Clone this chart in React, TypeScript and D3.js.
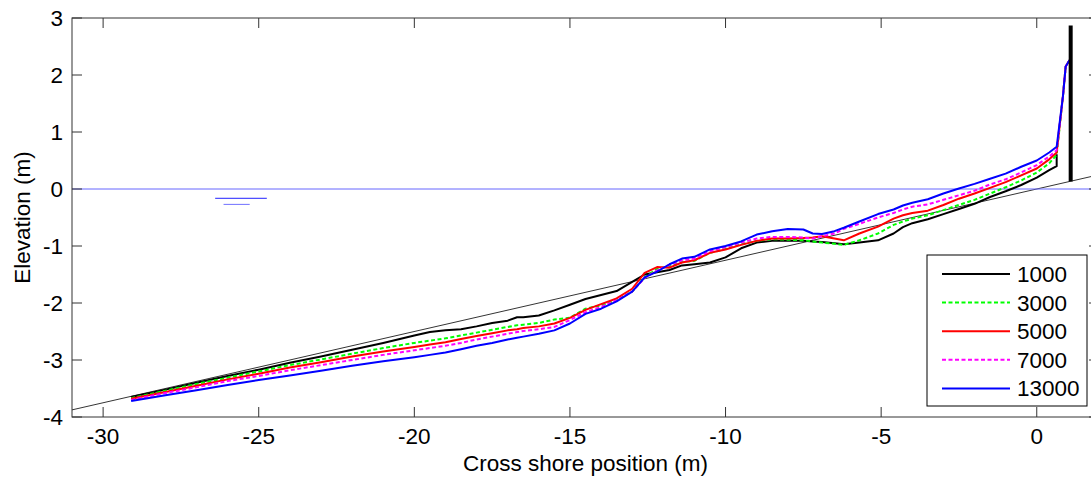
import React from 'react';
import * as d3 from 'd3';

const xs = [-29.1, -28, -27, -26, -25, -24, -23, -22, -21, -20, -19.5, -19, -18.5, -18, -17.5, -17, -16.7, -16.5, -16, -15.5, -15, -14.5, -14, -13.5, -13, -12.6, -12.2, -11.8, -11.4, -11, -10.5, -10, -9.5, -9, -8.5, -8, -7.5, -7.2, -6.9, -6.5, -6.2, -5.7, -5.1, -4.6, -4.3, -4, -3.5, -3, -2.5, -2, -1.5, -1, -0.5, 0, 0.4, 0.64];

const y1000 = [-3.65, -3.52, -3.40, -3.28, -3.17, -3.05, -2.94, -2.82, -2.70, -2.57, -2.51, -2.48, -2.46, -2.41, -2.35, -2.31, -2.25, -2.25, -2.22, -2.13, -2.03, -1.93, -1.86, -1.79, -1.63, -1.50, -1.46, -1.42, -1.34, -1.32, -1.29, -1.20, -1.04, -0.94, -0.91, -0.91, -0.91, -0.92, -0.93, -0.95, -0.97, -0.94, -0.90, -0.78, -0.67, -0.60, -0.53, -0.44, -0.35, -0.26, -0.14, -0.04, 0.07, 0.20, 0.33, 0.40];
const y3000 = [-3.67, -3.54, -3.42, -3.31, -3.20, -3.09, -2.99, -2.89, -2.79, -2.70, -2.66, -2.62, -2.57, -2.52, -2.47, -2.42, -2.39, -2.38, -2.35, -2.29, -2.26, -2.10, -2.04, -1.95, -1.80, -1.55, -1.40, -1.35, -1.28, -1.26, -1.12, -1.05, -0.97, -0.91, -0.88, -0.89, -0.90, -0.92, -0.94, -0.96, -0.98, -0.90, -0.78, -0.63, -0.57, -0.52, -0.46, -0.37, -0.28, -0.19, -0.08, 0.03, 0.15, 0.29, 0.45, 0.60];
const y5000 = [-3.68, -3.56, -3.45, -3.34, -3.24, -3.13, -3.04, -2.94, -2.85, -2.77, -2.73, -2.69, -2.63, -2.58, -2.53, -2.48, -2.46, -2.44, -2.41, -2.36, -2.26, -2.12, -2.02, -1.92, -1.75, -1.47, -1.37, -1.38, -1.29, -1.25, -1.12, -1.06, -0.98, -0.91, -0.87, -0.87, -0.86, -0.85, -0.83, -0.87, -0.90, -0.78, -0.66, -0.52, -0.46, -0.42, -0.38, -0.28, -0.17, -0.08, 0.02, 0.12, 0.24, 0.36, 0.52, 0.64];
const y7000 = [-3.70, -3.58, -3.48, -3.37, -3.28, -3.18, -3.09, -3.00, -2.91, -2.83, -2.79, -2.75, -2.70, -2.64, -2.59, -2.54, -2.51, -2.49, -2.46, -2.42, -2.30, -2.16, -2.07, -1.95, -1.80, -1.56, -1.43, -1.33, -1.25, -1.22, -1.09, -1.02, -0.94, -0.87, -0.84, -0.84, -0.85, -0.87, -0.83, -0.78, -0.70, -0.61, -0.50, -0.42, -0.36, -0.31, -0.27, -0.19, -0.11, -0.03, 0.08, 0.17, 0.29, 0.42, 0.57, 0.68];
const y13000 = [-3.72, -3.62, -3.53, -3.44, -3.35, -3.27, -3.19, -3.10, -3.02, -2.95, -2.91, -2.87, -2.81, -2.75, -2.70, -2.64, -2.61, -2.59, -2.54, -2.48, -2.36, -2.19, -2.10, -1.97, -1.80, -1.55, -1.45, -1.32, -1.22, -1.19, -1.06, -1.00, -0.92, -0.80, -0.74, -0.70, -0.71, -0.78, -0.79, -0.74, -0.68, -0.57, -0.44, -0.36, -0.29, -0.24, -0.18, -0.08, 0.01, 0.09, 0.18, 0.27, 0.39, 0.50, 0.64, 0.74];

const wallX = [0.84, 0.93, 1.05];
const wallY = [1.62, 2.15, 2.26];
const blackTailX = [0.64];
const blackTailY = [0.61];

const seriesNames = ['1000', '3000', '5000', '7000', '13000'];
const seriesValues = [y1000, y3000, y5000, y7000, y13000];
const seriesColors = ['#000000', '#00ff00', '#ff0000', '#ff00ff', '#0000ff'];
const seriesDash = [null, '4,2.5', null, '4,2.5', null];

const slopeX = [-31, 2];
const slopeY = [-3.875, 0.25];
const wallBarX = 1.09;
const wallBarY = [0.13, 2.87];
const waterSymX1 = [-26.4, -24.74];
const waterSymY1 = -0.163;
const waterSymX2 = [-26.13, -25.29];
const waterSymY2 = -0.27;

const xTicks = [-30, -25, -20, -15, -10, -5, 0];
const yTicks = [-4, -3, -2, -1, 0, 1, 2, 3];

const W = 1091;
const H = 479;
const FONT = "'Liberation Sans', Arial, sans-serif";

export default function App() {
  const x = d3.scaleLinear().domain([-31, 2]).range([72, 1099]);
  const y = d3.scaleLinear().domain([-4, 3]).range([417, 18]);
  const [x0, x1] = x.range();
  const [yb, yt] = y.range();
  const line = d3.line<[number, number]>().x(d => x(d[0])).y(d => y(d[1]));

  const seriesPts = seriesValues.map((vals, si) => {
    const pts: [number, number][] = xs.map((xv, i) => [xv, vals[i]]);
    if (si === 0) {
      blackTailX.forEach((xv, i) => pts.push([xv, blackTailY[i]]));
    } else {
      wallX.forEach((xv, i) => pts.push([xv, wallY[i]]));
    }
    return pts;
  });

  const legX = 927, legY = 255, legW = 160, legH = 151;
  const rowY = (i: number) => 274 + i * 28.6;

  return (
    <svg width={W} height={H} style={{ position: 'absolute', left: 0, top: 0, background: '#fff' }} fontFamily={FONT}>
      <defs>
        <clipPath id="plotclip">
          <rect x={x0} y={yt} width={x1 - x0} height={yb - yt} />
        </clipPath>
      </defs>
      <rect x={0} y={0} width={W} height={H} fill="#fff" />
      <g clipPath="url(#plotclip)">
        <path d={line(slopeX.map((v, i) => [v, slopeY[i]]) as [number, number][]) || ''} stroke="#000" strokeWidth={0.8} fill="none" />
        <line x1={x0} x2={x1} y1={y(0)} y2={y(0)} stroke="#6666ff" strokeWidth={1} />
        <line x1={x(waterSymX1[0])} x2={x(waterSymX1[1])} y1={y(waterSymY1)} y2={y(waterSymY1)} stroke="#2020ff" strokeWidth={1} />
        <line x1={x(waterSymX2[0])} x2={x(waterSymX2[1])} y1={y(waterSymY2)} y2={y(waterSymY2)} stroke="#7070ff" strokeWidth={1} />
        {seriesPts.map((pts, i) => (
          <path key={i} d={line(pts) || ''} stroke={seriesColors[i]} strokeWidth={2}
            strokeDasharray={seriesDash[i] || undefined} fill="none" strokeLinejoin="round" />
        ))}
        <line x1={x(wallBarX)} x2={x(wallBarX)} y1={y(wallBarY[0])} y2={y(wallBarY[1])} stroke="#000" strokeWidth={4} />
      </g>
      <g stroke="#333" strokeWidth={1} fill="none">
        <rect x={x0} y={yt} width={x1 - x0} height={yb - yt} />
        {xTicks.map(t => (
          <g key={'xt' + t}>
            <line x1={x(t)} x2={x(t)} y1={yb} y2={yb - 10} />
            <line x1={x(t)} x2={x(t)} y1={yt} y2={yt + 10} />
          </g>
        ))}
        {yTicks.map(t => (
          <g key={'yt' + t}>
            <line x1={x0} x2={x0 + 10} y1={y(t)} y2={y(t)} />
            <line x1={x1} x2={x1 - 10} y1={y(t)} y2={y(t)} />
          </g>
        ))}
      </g>
      <g fontSize={22.5} fill="#000">
        {xTicks.map(t => (
          <text key={'xl' + t} x={x(t)} y={444} textAnchor="middle">{t}</text>
        ))}
        {yTicks.map(t => (
          <text key={'yl' + t} x={63} y={y(t) + 8} textAnchor="end">{t}</text>
        ))}
        <text x={(x0 + x1) / 2} y={471} textAnchor="middle">Cross shore position (m)</text>
        <text transform={`translate(30, ${(yt + yb) / 2}) rotate(-90)`} textAnchor="middle">Elevation (m)</text>
      </g>
      <g>
        <rect x={legX} y={legY} width={legW} height={legH} fill="#fff" stroke="#000" strokeWidth={1} />
        {seriesNames.map((n, i) => (
          <g key={n}>
            <line x1={942} x2={1010} y1={rowY(i)} y2={rowY(i)} stroke={seriesColors[i]} strokeWidth={2}
              strokeDasharray={seriesDash[i] || undefined} />
            <text x={1017} y={rowY(i) + 8} fontSize={22.5} fill="#000">{n}</text>
          </g>
        ))}
      </g>
    </svg>
  );
}
